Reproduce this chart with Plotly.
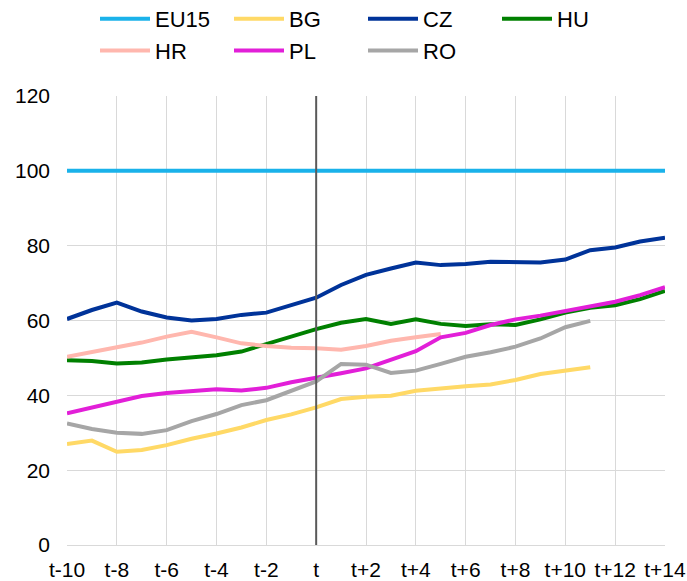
import plotly.graph_objects as go

periods = ["t-10", "t-9", "t-8", "t-7", "t-6", "t-5", "t-4", "t-3", "t-2", "t-1", "t",
           "t+1", "t+2", "t+3", "t+4", "t+5", "t+6", "t+7", "t+8", "t+9", "t+10",
           "t+11", "t+12", "t+13", "t+14"]
tick_labels = ["t-10", "t-8", "t-6", "t-4", "t-2", "t", "t+2", "t+4", "t+6", "t+8",
               "t+10", "t+12", "t+14"]

eu15 = [100] * 25
bg = [27.0, 27.9, 24.9, 25.4, 26.7, 28.4, 29.8, 31.4, 33.4, 34.9, 36.8,
      39.0, 39.6, 39.9, 41.2, 41.9, 42.4, 42.9, 44.1, 45.7, 46.6, 47.5]
cz = [60.4, 62.8, 64.8, 62.4, 60.8, 60.0, 60.4, 61.5, 62.1, 64.1, 66.1,
      69.5, 72.2, 73.9, 75.5, 74.8, 75.1, 75.7, 75.7, 75.5, 76.3, 78.8, 79.5, 81.1, 82.1]
hu = [49.4, 49.2, 48.5, 48.8, 49.6, 50.1, 50.7, 51.7, 53.7, 55.7, 57.7,
      59.4, 60.4, 59.1, 60.3, 59.1, 58.5, 59.0, 58.8, 60.3, 62.1, 63.4, 64.1, 65.7, 67.9]
hr = [50.3, 51.5, 52.8, 54.1, 55.7, 57.0, 55.5, 53.9, 53.2, 52.7, 52.6,
      52.2, 53.2, 54.6, 55.5, 56.4]
pl = [35.2, 36.8, 38.3, 39.8, 40.6, 41.2, 41.6, 41.3, 42.0, 43.5, 44.6,
      45.9, 47.2, 49.6, 51.8, 55.5, 56.7, 58.8, 60.3, 61.3, 62.6, 63.9, 65.0, 66.8, 68.9]
ro = [32.5, 31.0, 30.0, 29.7, 30.7, 33.1, 35.0, 37.4, 38.7, 41.2, 43.7,
      48.4, 48.2, 46.0, 46.6, 48.4, 50.3, 51.5, 53.0, 55.2, 58.2, 59.9]

series = [
    ("EU15", eu15, "#1AB2EA"),
    ("BG", bg, "#FFD966"),
    ("CZ", cz, "#003399"),
    ("HU", hu, "#008000"),
    ("HR", hr, "#FFB7AE"),
    ("PL", pl, "#E21FD8"),
    ("RO", ro, "#A6A6A6"),
]

FONT = "Arial, Liberation Sans, sans-serif"

fig = go.Figure()
for name, vals, col in series:
    fig.add_trace(go.Scatter(
        x=periods[:len(vals)], y=vals, name=name, mode="lines",
        line=dict(color=col, width=4),
    ))

fig.add_shape(type="line", xref="x", yref="paper",
              x0=periods.index("t"), x1=periods.index("t"), y0=0, y1=1,
              line=dict(color="#595959", width=2), layer="above")

fig.update_layout(
    width=687, height=581,
    margin=dict(l=67, r=22, t=96, b=36, autoexpand=False),
    paper_bgcolor="white", plot_bgcolor="white",
    font=dict(family=FONT, size=21, color="black"),
    showlegend=True,
    legend=dict(
        orientation="h", xref="container", yref="paper",
        x=95 / 687, y=1.2183, xanchor="left", yanchor="top",
        font=dict(size=22, family=FONT),
        entrywidth=69, entrywidthmode="pixels",
        itemwidth=50, tracegroupgap=0, bgcolor="rgba(0,0,0,0)",
    ),
    xaxis=dict(
        type="category", categoryorder="array", categoryarray=periods,
        range=[0, len(periods) - 1],
        tickmode="array", tickvals=tick_labels, ticktext=tick_labels,
        showgrid=True, gridcolor="#D9D9D9", gridwidth=1,
        showline=True, linecolor="#D9D9D9", linewidth=1,
        ticks="", tickfont=dict(size=21), zeroline=False,
        ticklabelstandoff=6,
    ),
    yaxis=dict(
        range=[0, 120], dtick=20, tick0=0,
        showgrid=True, gridcolor="#D9D9D9", gridwidth=1,
        showline=False, ticks="", tickfont=dict(size=21), zeroline=False,
        ticklabelstandoff=16,
    ),
)

fig.write_html("out.html", config={"displayModeBar": False},
               post_script="document.body.style.margin='0';")
